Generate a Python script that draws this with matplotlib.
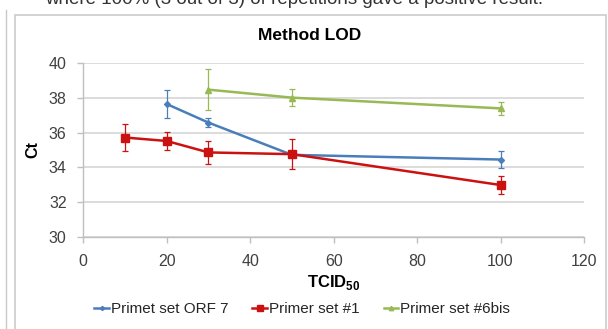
import matplotlib
matplotlib.use("Agg")
import matplotlib.pyplot as plt
from matplotlib.patches import Rectangle
from matplotlib.lines import Line2D

plt.rcParams['font.family'] = ['Liberation Sans', 'DejaVu Sans']
plt.rcParams['mathtext.fontset'] = 'custom'
plt.rcParams['mathtext.rm'] = 'Liberation Sans'
plt.rcParams['mathtext.bf'] = 'Liberation Sans:bold'

# Data
series_names = ["Primet set ORF 7", "Primer set #1", "Primer set #6bis"]
orf7_x = [20, 30, 50, 100]
orf7_y = [37.65, 36.58, 34.72, 34.45]
orf7_err = [0.8, 0.27, 0.1, 0.5]
set1_x = [10, 20, 30, 50, 100]
set1_y = [35.72, 35.52, 34.86, 34.76, 32.98]
set1_err = [0.8, 0.52, 0.68, 0.85, 0.53]
set6_x = [30, 50, 100]
set6_y = [38.48, 38.02, 37.40]
set6_err = [1.2, 0.5, 0.37]
x_ticks = [0, 20, 40, 60, 80, 100, 120]
y_ticks = [30, 32, 34, 36, 38, 40]

colors = ["#4a7ebb", "#cc1111", "#98b954"]
markers = ["D", "s", "^"]
msizes = [3, 6, 4.5]

fig = plt.figure(figsize=(6.08, 3.29), dpi=100)
W, H = 608, 329

def fx(px):
    return px / W

def fy(py):
    return 1 - py / H

# Background frames
fig.patches.append(Rectangle((fx(14.5), fy(335)), fx(606) - fx(14.5), fy(14.5) - fy(335),
                             transform=fig.transFigure, fill=False, ec="#d0d0d0", lw=1.3))
fig.lines.append(Line2D([fx(6), fx(6)], [fy(10), fy(329)], transform=fig.transFigure,
                        color="#c8c8c8", lw=1.0))

# Top text of the page, cut off by the screenshot edge (as in the reference)
fig.text(fx(45), fy(4.5), "where 100% (3 out of 3) of repetitions gave a positive result.",
         fontsize=13.5, color="#333333", ha="left", va="baseline")

ax = fig.add_axes([fx(83.3), fy(236.7), fx(584) - fx(83.3), fy(63.3) - fy(236.7)])

data = [(orf7_x, orf7_y, orf7_err), (set1_x, set1_y, set1_err), (set6_x, set6_y, set6_err)]
handles = []
for (xs, ys, es), c, m, ms, name in zip(data, colors, markers, msizes, series_names):
    ax.errorbar(xs, ys, yerr=es, color=c, ecolor=c, elinewidth=0.9, capsize=2.2,
                capthick=0.9, lw=1.8, marker=m, ms=ms, mec=c, mfc=c, zorder=3)
    handles.append(Line2D([], [], color=c, lw=1.8, marker=m, ms=ms * 0.7, mec=c, mfc=c))

ax.set_xlim(0, 120)
ax.set_ylim(30, 40)
ax.set_xticks(x_ticks)
ax.set_yticks(y_ticks)
ax.grid(axis='y', color="#d9d9d9", lw=1.3)
ax.set_axisbelow(True)
for s in ["top", "right"]:
    ax.spines[s].set_visible(False)
for s in ["left", "bottom"]:
    ax.spines[s].set_color("#bfbfbf")
    ax.spines[s].set_linewidth(1.0)
ax.tick_params(axis='both', colors="#bfbfbf", labelcolor="#404040", labelsize=11.5,
               length=4.5, width=1.0, direction='out')
ax.tick_params(axis='x', pad=8)
ax.tick_params(axis='y', pad=7.5)

fig.text(fx(310), fy(36), "Method LOD", fontsize=12.5, fontweight='bold', color="#000000",
         ha="center", va="center")
ax.set_ylabel("Ct", fontsize=11.5, fontweight='bold', labelpad=6)
ax.set_xlabel(r"$\mathbf{TCID}_{\mathbf{50}}$", fontsize=12, labelpad=3)

fig.legend(handles, series_names, loc="center", bbox_to_anchor=(fx(302), fy(309)),
           ncol=3, frameon=False, fontsize=11, handlelength=0.95, handletextpad=0.1,
           columnspacing=1.6, labelcolor="#262626")

fig.savefig("out.png", dpi=100)
